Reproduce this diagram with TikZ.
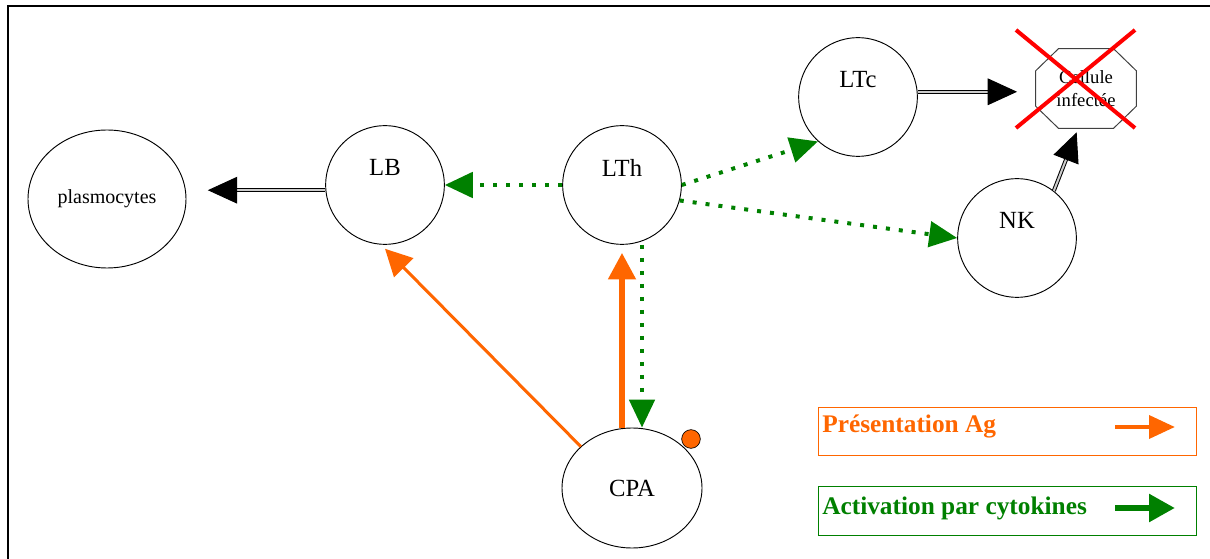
\documentclass[tikz,border=0pt]{standalone}
\usepackage{fontspec}
\setmainfont{Liberation Serif}
\usetikzlibrary{arrows.meta,shapes.geometric}

\definecolor{agorange}{HTML}{FF6600}
\definecolor{cytogreen}{HTML}{008000}

\begin{document}
\begin{tikzpicture}[x=0.75pt,y=-0.75pt,
  cell/.style={draw,circle,line width=0.7pt,minimum size=89pt},
  oval/.style={draw,ellipse,line width=0.7pt},
  celltxt/.style={label={[font=\fontsize{18.5}{20}\selectfont,yshift=13pt]center:#1}},
  cyto/.style={cytogreen,line width=3pt,dash pattern=on 3pt off 6.75pt,-{Triangle[length=21pt,width=19pt]}},
  pres/.style={agorange,-{Triangle[length=20pt,width=20pt]}},
  kill/.style={double=gray!40,double distance=1.5pt,line width=0.75pt,-{Triangle[length=22pt,width=20pt]}},
  legbox/.style={draw,line width=0.75pt,minimum width=283.5pt,minimum height=36.5pt},
  legtxt/.style={font=\fontsize{19}{21}\selectfont\bfseries,anchor=west}]
\tikzstyle{every node}+=[inner sep=0pt]
\useasboundingbox (0,0) rectangle (1210,559);
\draw[line width=1.5pt] (8,559) -- (8,6) -- (1210,6);

\node[oval,minimum width=118.5pt,minimum height=103.5pt,font=\fontsize{15}{17}\selectfont] (plasmo) at (107,199) {plasmocytes};
\node[cell,celltxt=LB] (LB) at (385,185) {};
\node[cell,celltxt=LTh] (LTh) at (622,185) {};
\node[cell,celltxt=LTc] (LTc) at (858,97) {};
\node[cell,celltxt=NK] (NK) at (1017,238) {};
\node[oval,minimum width=105pt,minimum height=90pt,font=\fontsize{18.5}{20}\selectfont] (CPA) at (632,488) {CPA};
\node[minimum width=75pt,minimum height=59.25pt,align=center,font=\fontsize{14}{17.5}\selectfont] (infect) at (1086,88.5) {Cellule\\infectée};
\draw[black!75,line width=0.75pt] ([xshift=17pt]infect.north west) -- ([xshift=-17pt]infect.north east)
  -- ([yshift=-16.5pt]infect.north east) -- ([yshift=16.5pt]infect.south east)
  -- ([xshift=-17pt]infect.south east) -- ([xshift=17pt]infect.south west)
  -- ([yshift=16.5pt]infect.south west) -- ([yshift=-16.5pt]infect.north west) -- cycle;
\node[circle,draw,fill=agorange,line width=0.5pt,minimum size=14pt] (ag) at (691,439) {};

\draw[kill,shorten >=16pt] (LB.185) -- (LB.185 -| plasmo.east);
\draw[kill,shorten >=14pt] (LTc.5) -- (LTc.5 -| infect.west);
\draw[kill] (NK.52) -- ([xshift=-7pt,yshift=-3pt]infect.south);
\draw[red,line width=3pt] (1016,30) -- (1135,128) (1135,30) -- (1016,128);

\draw[cyto] (LTh) -- (LB);
\draw[cyto] (LTh.east) -- (LTc.228);
\draw[cyto] (LTh.-15) -- (NK.west);
\draw[cyto] ([xshift=15pt]LTh.south) -- ([xshift=15pt]LTh.south |- CPA.north);
\draw[pres,line width=4.5pt] (LTh.south |- CPA.north) -- ([yshift=-6pt]LTh.south);
\draw[pres,line width=2.25pt] (CPA.141) -- ([yshift=-3pt]LB.south);

\node[legbox,draw=agorange] (legA) at (1007,431.5) {};
\node[legtxt,text=agorange] (legAtxt) at (822,426) {Présentation Ag};
\coordinate (legAs) at (1115,427);
\coordinate (legAe) at (1175,427);
\draw[agorange,line width=3.5pt,-{Triangle[length=19.5pt,width=17pt]}] (legAs) -- (legAe);
\node[legbox,draw=cytogreen] (legB) at (1007,511) {};
\node[legtxt,text=cytogreen] (legBtxt) at (822,508) {Activation par cytokines};
\coordinate (legBs) at (1115,508);
\coordinate (legBe) at (1175,508);
\draw[cytogreen,line width=5pt,-{Triangle[length=19.5pt,width=20pt]}] (legBs) -- (legBe);
\end{tikzpicture}
\end{document}
